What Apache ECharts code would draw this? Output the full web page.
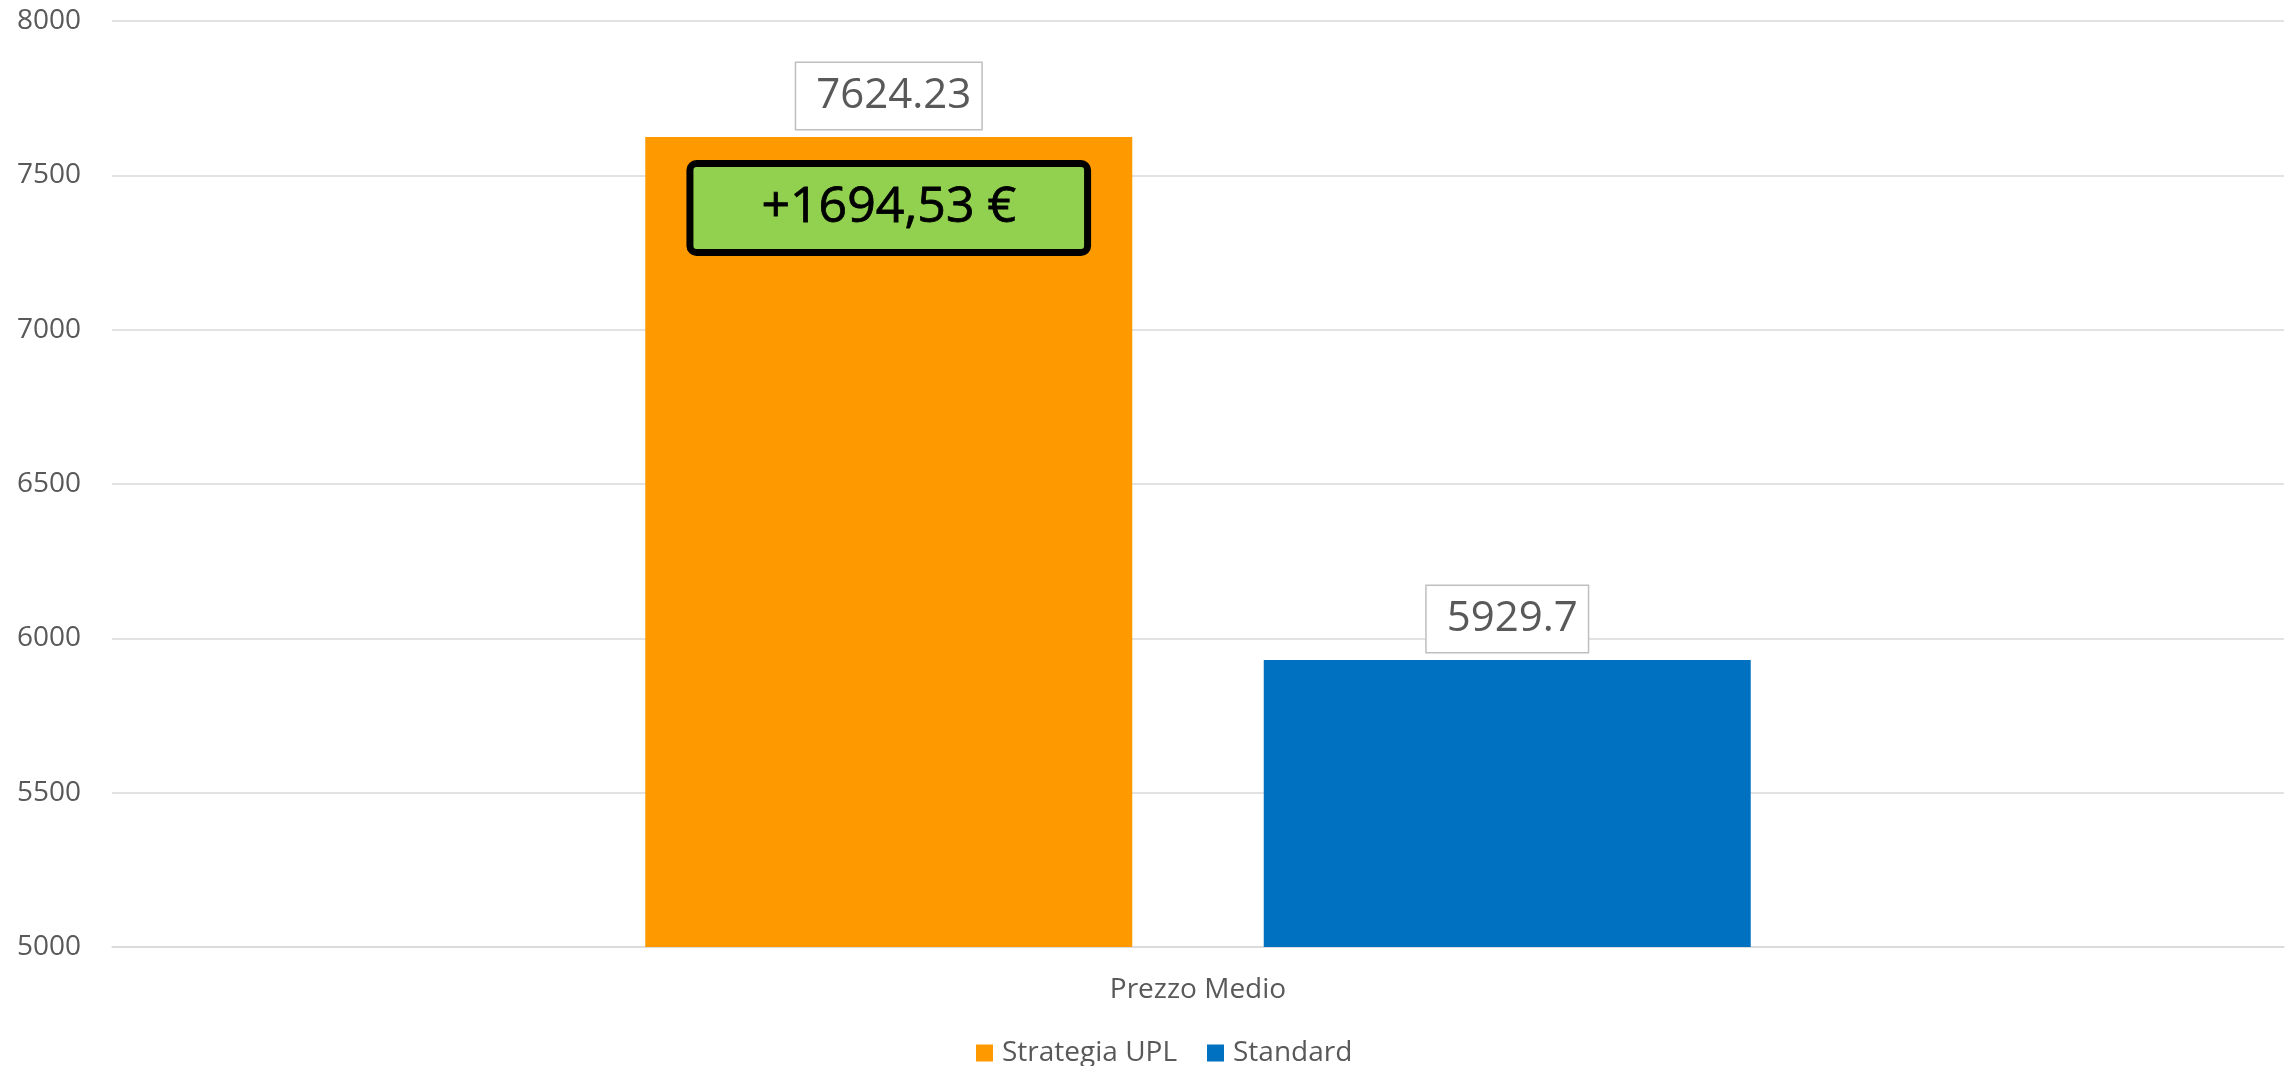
<!DOCTYPE html>
<html>
<head>
<meta charset="utf-8">
<script src="https://cdn.jsdelivr.net/npm/echarts@6/dist/echarts.min.js"></script>
<style>
  html, body { margin: 0; padding: 0; background: #fff; }
  #chart { width: 2293px; height: 1066px; }
</style>
</head>
<body>
<div id="chart"></div>
<script>
// dati del grafico
var categories = ['Prezzo Medio'];
var seriesNames = ['Strategia UPL', 'Standard'];
var upl = [7624.23];
var standard = [5929.7];
var yTicks = [5000, 5500, 6000, 6500, 7000, 7500, 8000];
var deltaLabel = '+1694,53 €';

var font = '"Open Sans", "Noto Sans", sans-serif';

var valueLabel = {
    show: true,
    position: 'top',
    distance: 8,
    fontFamily: font,
    fontSize: 42,
    lineHeight: 42,
    color: '#595959',
    backgroundColor: '#fff',
    borderColor: '#bfbfbf',
    borderWidth: 1.5,
    padding: [12, 10, 12, 20]
};

var chart = echarts.init(document.getElementById('chart'));
var option = {
    animation: false,
    grid: { left: 112, right: 9, top: 21, bottom: 119 },
    legend: {
        data: seriesNames,
        top: 1034,
        left: 971,
        icon: 'rect',
        itemWidth: 17,
        itemHeight: 17,
        itemGap: 30,
        textStyle: { fontFamily: font, fontSize: 28, color: '#595959', padding: [0, 0, 0, 4] }
    },
    xAxis: {
        type: 'category',
        data: categories,
        axisTick: { show: false },
        axisLine: { lineStyle: { color: '#d9d9d9', width: 1.5 } },
        axisLabel: { fontFamily: font, fontSize: 28, color: '#595959', margin: 29 }
    },
    yAxis: {
        type: 'value',
        min: yTicks[0],
        max: yTicks[yTicks.length - 1],
        interval: 500,
        axisLine: { show: false },
        axisTick: { show: false },
        splitLine: { lineStyle: { color: '#d9d9d9', width: 1.5 } },
        axisLabel: {
            fontFamily: font, fontSize: 28, color: '#595959', margin: 31,
            formatter: function (v) { return String(v); }
        }
    },
    series: [
        {
            name: seriesNames[0],
            type: 'bar',
            data: upl,
            barWidth: 487,
            barGap: '27%',
            itemStyle: { color: '#FF9900' },
            label: valueLabel,
            markPoint: {
                symbol: 'rect',
                symbolSize: 0,
                data: [{ coord: [0, upl[0]] }],
                label: {
                    show: true,
                    position: 'inside',
                    offset: [0, 71],
                    formatter: deltaLabel,
                    fontFamily: font,
                    fontSize: 50,
                    lineHeight: 50,
                    color: '#000',
                    textBorderColor: '#000',
                    textBorderWidth: 0.8,
                    backgroundColor: '#92D050',
                    borderColor: '#000',
                    borderWidth: 7,
                    borderRadius: 3,
                    padding: [16, 68]
                }
            }
        },
        {
            name: seriesNames[1],
            type: 'bar',
            data: standard,
            barWidth: 487,
            itemStyle: { color: '#0070C0' },
            label: valueLabel
        }
    ]
};
chart.setOption(option);
</script>
</body>
</html>
